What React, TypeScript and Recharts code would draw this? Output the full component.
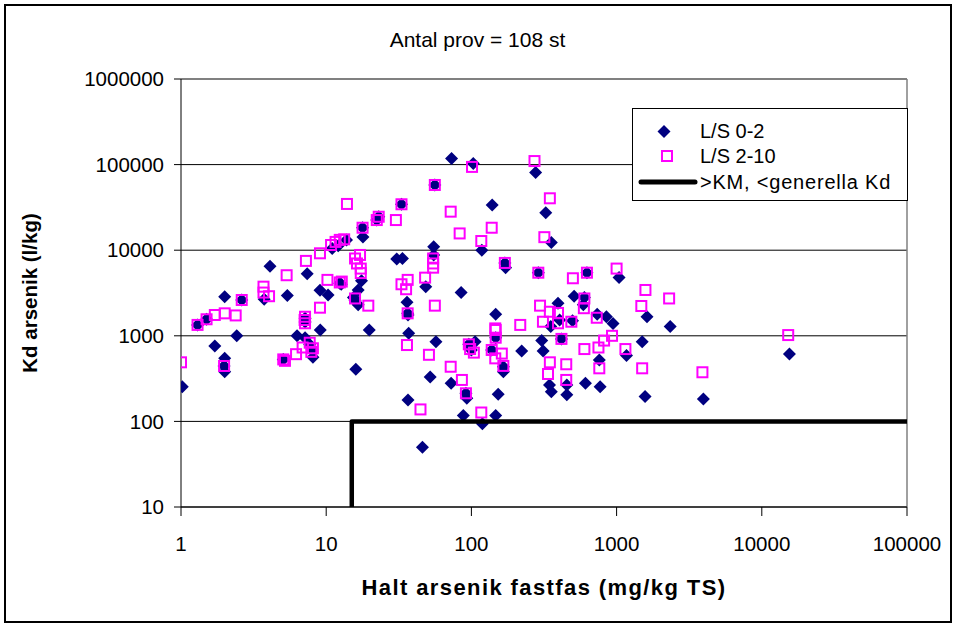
import React from 'react';
import { ScatterChart, Scatter, XAxis, YAxis, CartesianGrid, ReferenceLine, Legend } from 'recharts';

// L/S 0-2 (diamonds)
const ls02X = [1.02, 1.3, 1.5, 1.71, 2.0, 2.0, 1.98, 2.0, 2.42, 2.62, 3.74, 4.1, 5.4, 5.06, 6.3, 7.15, 7.15, 7.15, 7.4, 7.7, 8.0, 8.1, 9.06, 9.1, 10.3, 11, 12.1, 13.8, 12.4, 12.7, 15.8, 16.6, 15.4, 16.0, 17.5, 16.6, 17.8, 17.9, 19.8, 23, 22.3, 30.6, 33.5, 33, 36, 36.4, 36.6, 37, 36.6, 46, 48.5, 52, 55, 55, 56, 57, 72.5, 73, 85, 88, 91.7, 93, 96, 100, 106, 103, 118, 119, 139, 138, 147, 147, 147, 153, 166, 166, 170, 172, 222, 277, 289, 305, 312, 325, 355, 345, 355, 352, 395, 405, 417, 454, 454, 497, 510, 590, 600, 610, 625, 735, 760, 770, 850, 945, 1040, 1170, 1500, 1570, 1620, 2340, 3960, 15500];
const ls02Y = [254, 1340, 1560, 760, 545, 380, 444, 2850, 1000, 2620, 2670, 6500, 2960, 530, 1000, 950, 1600, 1450, 5300, 790, 690, 560, 3400, 1170, 3000, 10500, 11300, 13200, 4100, 4000, 2600, 2300, 2800, 407, 4400, 3430, 18300, 14300, 1170, 24600, 22500, 7900, 8000, 34400, 2460, 1830, 1750, 1070, 178, 50, 3750, 330, 11000, 8800, 57800, 850, 279, 118000, 3200, 117, 213, 187, 795, 683, 850, 103000, 10000, 94, 33700, 683, 1780, 950, 117, 207, 435, 380, 7100, 6250, 663, 81000, 5460, 880, 663, 27400, 12300, 266, 222, 1280, 2400, 1530, 920, 266, 205, 1500, 2900, 2300, 2800, 279, 5460, 1780, 520, 254, 1670, 1390, 4800, 590, 850, 195, 1670, 1280, 183, 612];

// L/S 2-10 (squares)
const ls210X = [1.0, 1.3, 1.5, 1.71, 2.0, 2.38, 1.98, 2.62, 3.7, 3.7, 4.04, 5.34, 5.06, 5.2, 6.2, 6.88, 7.15, 7.1, 7.15, 7.25, 7.7, 8.1, 7.9, 9.06, 9.06, 10.2, 10.8, 11.6, 12.4, 13.3, 12.4, 12.8, 13.9, 15.8, 17.1, 16.3, 17.3, 17.3, 15.8, 17.8, 19.5, 22.3, 23, 30.2, 33, 33, 36.4, 35.5, 36.4, 36, 44.6, 48, 51, 54.5, 54.5, 54.5, 56, 56, 72, 72, 83, 86, 91.7, 96, 98, 104, 101, 117, 117, 138, 138, 146, 147, 147, 146, 162, 166, 170, 217, 272, 289, 297, 311, 318, 337, 347, 347, 347, 395, 395, 417, 450, 450, 488, 500, 595, 600, 600, 625, 730, 750, 760, 820, 930, 1000, 1150, 1480, 1500, 1580, 2300, 3900, 15200];
const ls210Y = [490, 1340, 1560, 1750, 1830, 1730, 444, 2620, 3750, 3200, 2900, 5100, 530, 510, 610, 730, 1670, 1530, 1400, 7500, 830, 715, 650, 9200, 2130, 4500, 11500, 12500, 13200, 13400, 4200, 4300, 34700, 8000, 8800, 7000, 6100, 5400, 2730, 18300, 2250, 22500, 24600, 22500, 34400, 4000, 4500, 3500, 1830, 780, 138, 4780, 600, 8000, 7000, 6250, 2250, 57800, 28200, 435, 15700, 305, 213, 795, 700, 636, 94000, 12800, 127, 18300, 683, 1220, 1170, 950, 545, 620, 445, 7100, 1340, 110000, 5460, 2250, 1460, 14200, 358, 40400, 1910, 490, 1850, 1400, 920, 465, 305, 1460, 4700, 2100, 2730, 700, 5460, 1625, 730, 417, 880, 1000, 6100, 700, 2230, 417, 3430, 2730, 375, 1020];

// >KM, <generella Kd
const kmX = [15, 15, 100000];
const kmY = [10, 100, 100];

const xTicks = [1, 10, 100, 1000, 10000, 100000];
const yTicks = [10, 100, 1000, 10000, 100000, 1000000];

const toPoints = (xs: number[], ys: number[]) => xs.map((x, i) => ({ x, y: ys[i] }));
const ls02Data = toPoints(ls02X, ls02Y);
const ls210Data = toPoints(ls210X, ls210Y);
const kmData = toPoints(kmX, kmY);

const FONT = '"Liberation Sans", Arial, sans-serif';

const Diamond = (props: any) => {
  const { cx, cy } = props;
  if (cx == null || cy == null) return <g />;
  const r = 6.5;
  return <polygon points={`${cx},${cy - r} ${cx + r},${cy} ${cx},${cy + r} ${cx - r},${cy}`} fill="#000080" />;
};

const Square = (props: any) => {
  const { cx, cy } = props;
  if (cx == null || cy == null) return <g />;
  return <rect x={cx - 5} y={cy - 5} width={10} height={10} fill="none" stroke="#FF00FF" strokeWidth={2} />;
};

const Nothing = () => <g />;

const LegendBox = () => (
  <div style={{ width: 276, height: 93, border: '1.5px solid #000', background: '#fff', boxSizing: 'border-box', fontFamily: FONT, fontSize: 20, position: 'relative' }}>
    <svg width={66} height={90} style={{ position: 'absolute', left: 0, top: 0 }}>
      <polygon points="31,16 37.5,22.5 31,29 24.5,22.5" fill="#000080" />
      <rect x={29} y={42} width={10} height={10} fill="none" stroke="#FF00FF" strokeWidth={2} />
      <line x1={8} y1={73} x2={62} y2={73} stroke="#000" strokeWidth={5} strokeLinecap="round" />
    </svg>
    <div style={{ position: 'absolute', left: 67, top: 10, lineHeight: '24px' }}>L/S 0-2</div>
    <div style={{ position: 'absolute', left: 67, top: 35, lineHeight: '24px' }}>L/S 2-10</div>
    <div style={{ position: 'absolute', left: 67, top: 61, lineHeight: '24px', whiteSpace: 'nowrap', letterSpacing: 0.8 }}>&gt;KM, &lt;generella Kd</div>
  </div>
);

export default function App() {
  return (
    <div style={{ position: 'absolute', left: 0, top: 0, width: 955, height: 627, background: '#fff', fontFamily: FONT }}>
      <div style={{ position: 'absolute', left: 4, top: 4, width: 944, height: 615, border: '2px solid #000' }} />
      <div style={{ position: 'absolute', left: 0, top: 26, width: 955, textAlign: 'center', fontSize: 21, lineHeight: '28px' }}>
        Antal prov = 108 st
      </div>
      <div style={{ position: 'absolute', left: 0, top: 0 }}>
        <ScatterChart width={955} height={627} margin={{ top: 79, right: 48, bottom: 90, left: 0 }}>
          <CartesianGrid horizontal={true} vertical={false} stroke="#000" strokeWidth={1} />
          <XAxis
            dataKey="x"
            type="number"
            scale="log"
            domain={[1, 100000]}
            ticks={xTicks}
            allowDataOverflow
            axisLine={{ stroke: '#000', strokeWidth: 1 }}
            tickLine={{ stroke: '#000' }}
            tickSize={9}
            tickMargin={20}
            tick={{ fill: '#000', fontSize: 20.5, fontFamily: FONT }}
            height={30}
            label={{ value: 'Halt arsenik fastfas (mg/kg TS)', position: 'bottom', offset: 42, style: { fontWeight: 'bold', fontSize: 22, fill: '#000', fontFamily: FONT, letterSpacing: 1.4 } }}
          />
          <YAxis
            dataKey="y"
            type="number"
            scale="log"
            domain={[10, 1000000]}
            ticks={yTicks}
            allowDataOverflow
            width={181}
            axisLine={{ stroke: '#000', strokeWidth: 1 }}
            tickLine={{ stroke: '#000' }}
            tickSize={7}
            tickMargin={10}
            tick={{ fill: '#000', fontSize: 20.5, fontFamily: FONT }}
            label={{ value: 'Kd arsenik (l/kg)', angle: -90, position: 'insideLeft', offset: 30, style: { textAnchor: 'middle', fontWeight: 'bold', fontSize: 20.5, fill: '#000', fontFamily: FONT } }}
          />
          <ReferenceLine y={1000000} stroke="#808080" strokeWidth={1.5} />
          <ReferenceLine x={100000} stroke="#808080" strokeWidth={1.5} />
          <Legend
            layout="horizontal"
            verticalAlign="middle"
            align="center"
            content={() => <LegendBox />}
            wrapperStyle={{ position: 'absolute', left: 632, top: 108, width: 276, height: 93 }}
          />
          <Scatter name="L/S 0-2" data={ls02Data} shape={Diamond} isAnimationActive={false} />
          <Scatter name="L/S 2-10" data={ls210Data} shape={Square} isAnimationActive={false} />
          <Scatter
            name=">KM, <generella Kd"
            data={kmData}
            shape={Nothing}
            line={{ stroke: '#000', strokeWidth: 4.5, strokeLinecap: 'round', strokeLinejoin: 'round' }}
            lineType="joint"
            isAnimationActive={false}
          />
        </ScatterChart>
      </div>
    </div>
  );
}
